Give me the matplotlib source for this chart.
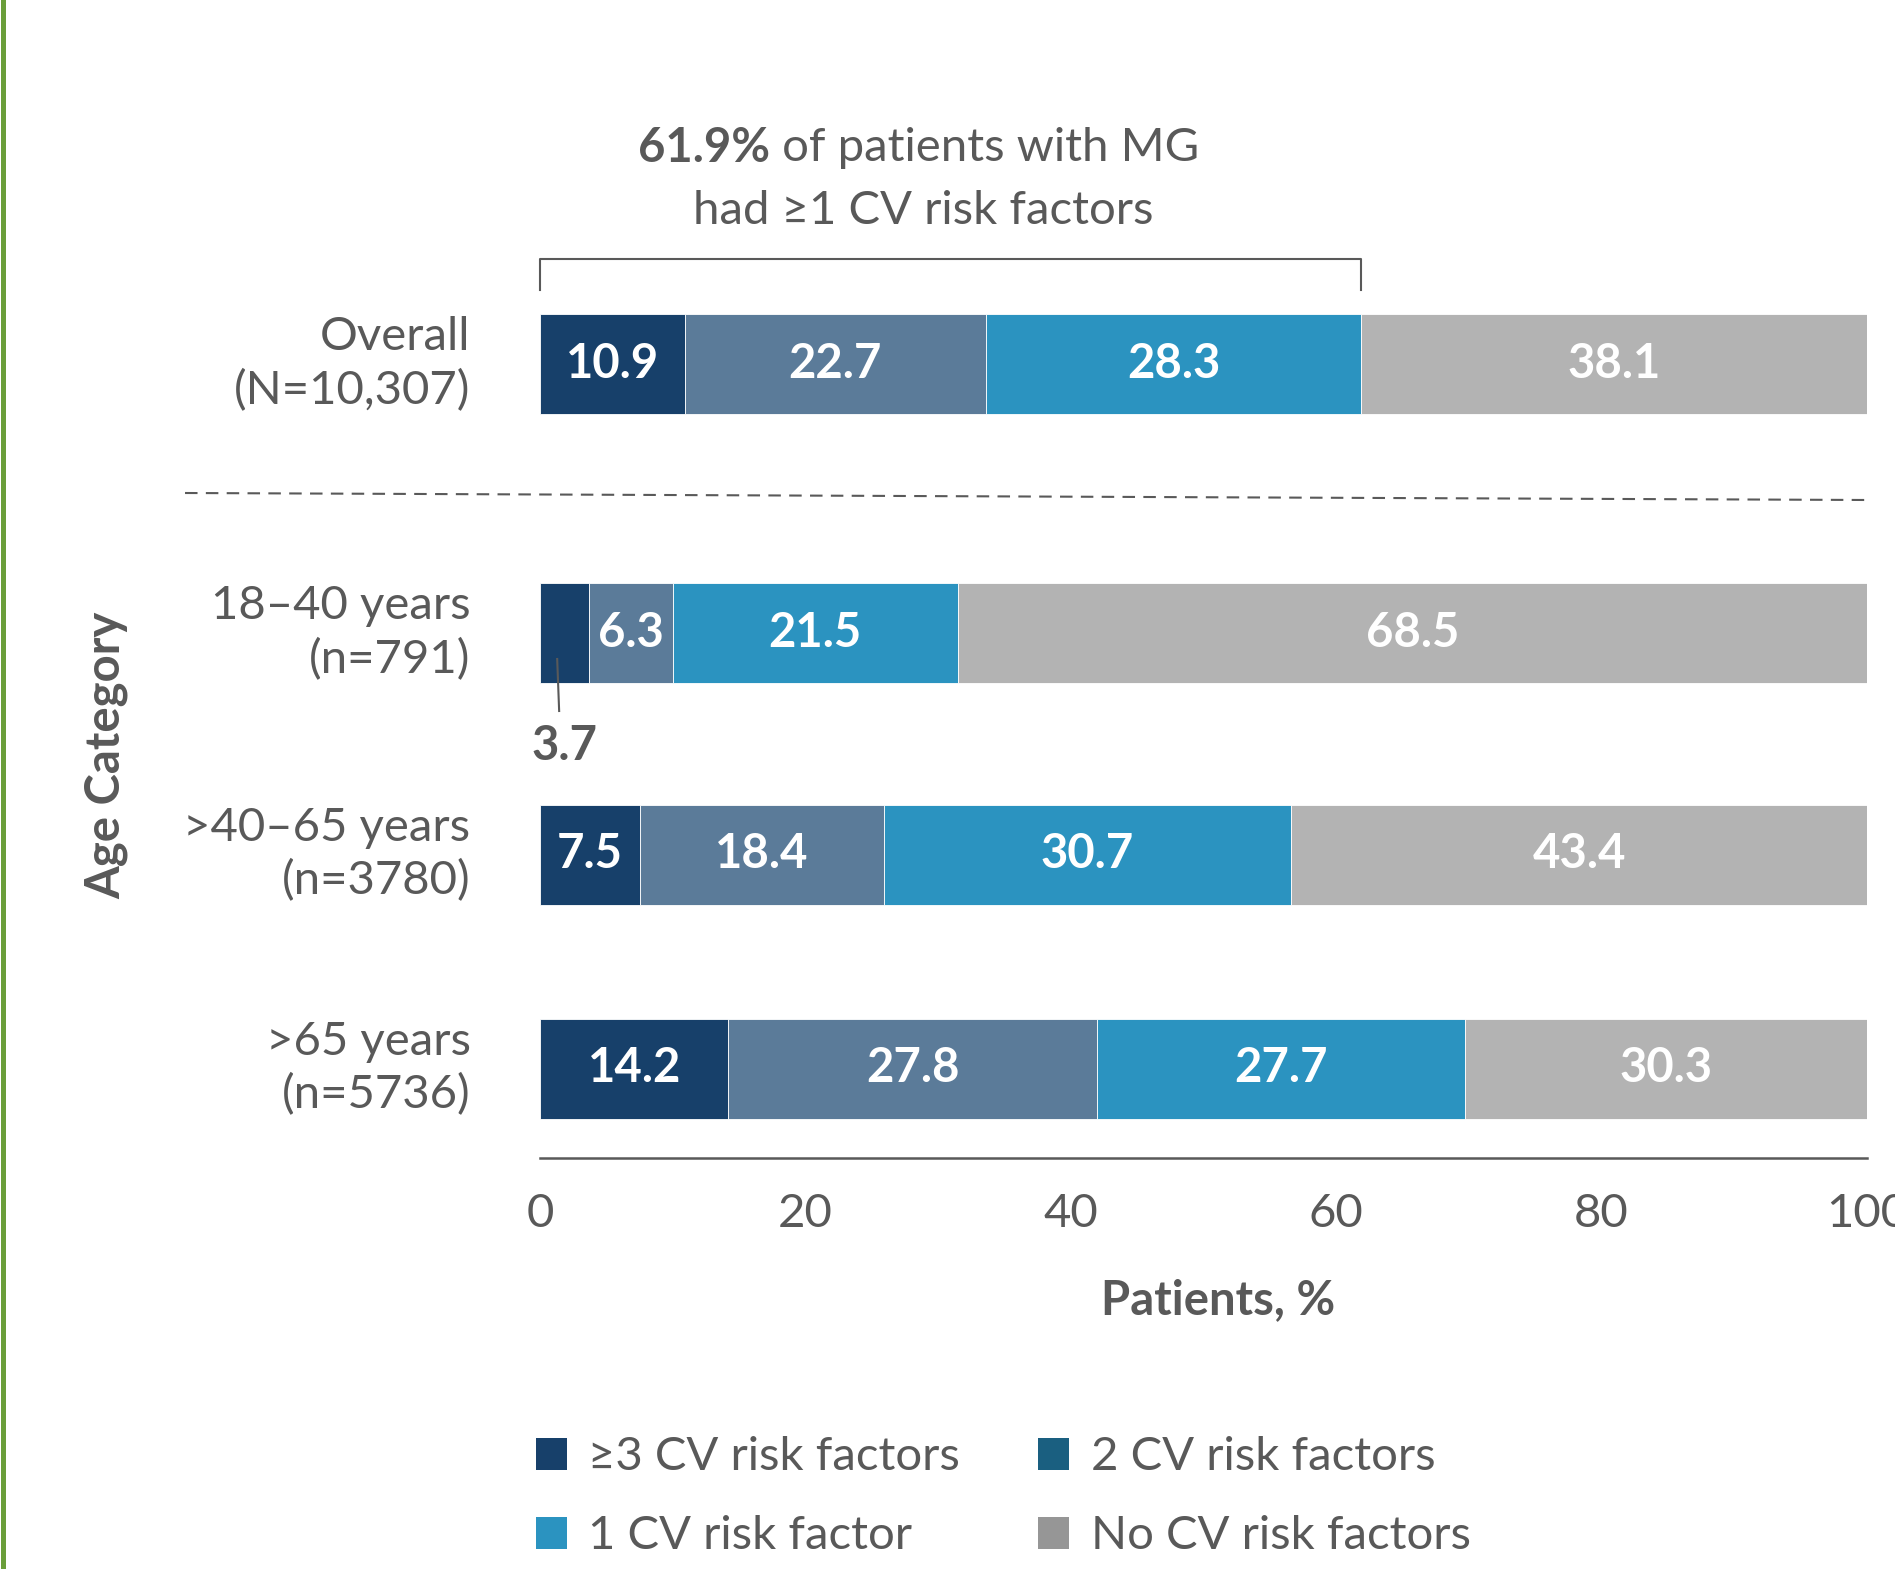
import matplotlib
matplotlib.use('Agg')
import matplotlib.pyplot as plt
from matplotlib.patches import Patch
from matplotlib.lines import Line2D

plt.rcParams['font.family'] = ['Lato', 'DejaVu Sans']

# data
groups = ['Overall\n(N=10,307)', '18\u201340 years\n(n=791)',
          '>40\u201365 years\n(n=3780)', '>65 years\n(n=5736)']
seriesNames = ['\u22653 CV risk factors', '2 CV risk factors',
               '1 CV risk factor', 'No CV risk factors']
three_plus = [10.9, 3.7, 7.5, 14.2]
two = [22.7, 6.3, 18.4, 27.8]
one = [28.3, 21.5, 30.7, 27.7]
none = [38.1, 68.5, 43.4, 30.3]
anyRisk = 61.9
xticks = [0, 20, 40, 60, 80, 100]

# layout
rowPos = [0, 2.69, 4.905, 7.045]
barColors = ['#17406a', '#5b7b99', '#2b93c0', '#b3b3b3']
legColors = ['#17406a', '#1a5f80', '#2b93c0', '#969696']
grey = '#595959'
fs = 34

fig = plt.figure(figsize=(18.95, 15.69), dpi=100)
ax = fig.add_axes([540/1895, 1 - 1158/1569, 1327/1895, 899/1569])

series = [three_plus, two, one, none]
left = [0.0] * len(groups)
for si, vals in enumerate(series):
    ax.barh(rowPos, vals, left=left, height=1.0, color=barColors[si],
            edgecolor='white', linewidth=0.6)
    for gi, v in enumerate(vals):
        cx = left[gi] + v / 2
        if v < 5:
            # small segment: label below with leader line
            ax.plot([left[gi] + v * 0.35, left[gi] + v * 0.39],
                    [rowPos[gi] + 0.26, rowPos[gi] + 0.78],
                    color=grey, lw=1.5, clip_on=False)
            ax.text(cx, rowPos[gi] + 1.13, f'{v:.1f}', ha='center', va='center',
                    fontsize=fs, fontweight='bold', color=grey)
        else:
            ax.text(cx, rowPos[gi], f'{v:.1f}', ha='center', va='center',
                    fontsize=fs, fontweight='bold', color='white')
    left = [l + v for l, v in zip(left, vals)]

ax.set_xlim(0, 100)
ax.set_ylim(7.94, -1.05)
ax.set_xticks(xticks)
ax.set_xticklabels([str(t) for t in xticks])
ax.set_yticks(rowPos)
ax.set_yticklabels(groups, linespacing=1.3, va='center')
ax.tick_params(axis='x', length=0, pad=25, labelsize=fs, labelcolor=grey)
ax.tick_params(axis='y', length=0, pad=50, labelsize=fs, labelcolor=grey)
for s in ['top', 'right', 'left']:
    ax.spines[s].set_visible(False)
ax.spines['bottom'].set_color(grey)
ax.spines['bottom'].set_linewidth(1.8)

ax.set_xlabel('Patients, %', fontsize=fs, fontweight='bold', color=grey, labelpad=31)
ax.xaxis.label.set_x(0.511)

fig.text(106/1895, 1 - 755/1569, 'Age Category', rotation=90, ha='center', va='center',
         fontsize=fs, fontweight='bold', color=grey)

# dashed separator
ax.plot([-26.75, 100], [1.29, 1.36], color=grey, lw=1.5, ls=(0, (6, 4)), clip_on=False)

# bracket + annotation
ax.plot([0, 0, anyRisk, anyRisk], [-0.74, -1.05, -1.05, -0.74], color=grey, lw=1.5,
        clip_on=False)
renderer = fig.canvas.get_renderer()
tb = ax.text(0, -2.16, f'{anyRisk}%', fontsize=fs, fontweight='bold', color=grey,
             ha='left', va='center', clip_on=False)
tr = ax.text(0, -2.16, ' of patients with MG', fontsize=fs, color=grey,
             ha='left', va='center', clip_on=False)
wb = tb.get_window_extent(renderer).width
wr = tr.get_window_extent(renderer).width
pxPerUnit = 1327 / 100
cx = 28.5
start = cx - (wb + wr) / 2 / pxPerUnit
tb.set_x(start)
tr.set_x(start + wb / pxPerUnit)
ax.text(28.9, -1.53, 'had \u22651 CV risk factors', fontsize=fs, color=grey,
        ha='center', va='center', clip_on=False)

# legend
handles = [Patch(facecolor=legColors[i], label=seriesNames[i]) for i in [0, 2, 1, 3]]
fig.legend(handles=handles, ncol=2, loc='upper left', bbox_to_anchor=(493/1895, 1 - 1394/1569),
           frameon=False, fontsize=fs, handlelength=0.66, handleheight=0.66,
           handletextpad=0.45, labelspacing=0.78, columnspacing=1.66, labelcolor=grey)

# green side rule
fig.add_artist(Line2D([3/1895, 3/1895], [0, 1], color='#6a9e3a', lw=3.6))

fig.savefig('out.png', dpi=100)
